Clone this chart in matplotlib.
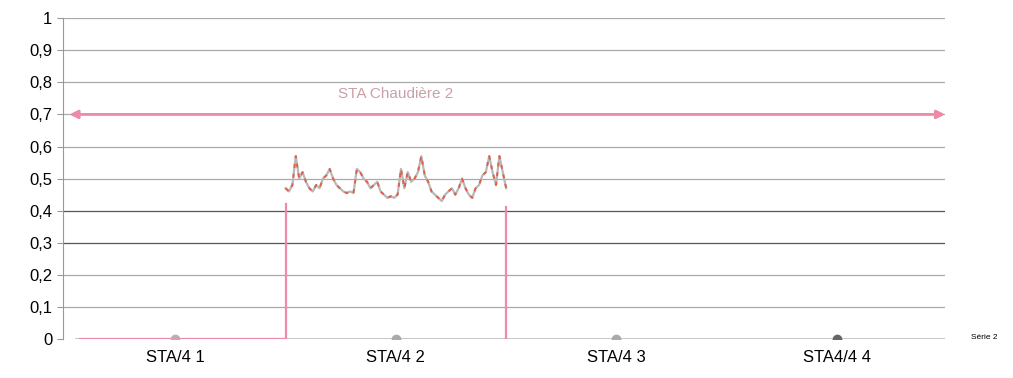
import matplotlib
matplotlib.use("Agg")
import matplotlib.pyplot as plt
import numpy as np

plt.rcParams['font.family'] = ['Liberation Sans', 'DejaVu Sans']

categories = ["STA/4 1", "STA/4 2", "STA/4 3", "STA4/4 4"]
serie2_values = [0, 0, 0, 0]
yticks = [0, 0.1, 0.2, 0.3, 0.4, 0.5, 0.6, 0.7, 0.8, 0.9, 1]
ytick_labels = ["0", "0,1", "0,2", "0,3", "0,4", "0,5", "0,6", "0,7", "0,8", "0,9", "1"]

# Signal for STA Chaudière 2 (between category 1 and 2 boundaries)
signal = [0.47, 0.46, 0.48, 0.57, 0.50, 0.52, 0.49, 0.47, 0.46, 0.48, 0.47, 0.50,
          0.51, 0.53, 0.50, 0.48, 0.47, 0.46, 0.455, 0.46, 0.455, 0.53, 0.52, 0.50,
          0.49, 0.47, 0.48, 0.49, 0.46, 0.45, 0.44, 0.445, 0.44, 0.45, 0.53, 0.47,
          0.52, 0.49, 0.50, 0.52, 0.57, 0.51, 0.49, 0.46, 0.45, 0.44, 0.43, 0.45,
          0.46, 0.47, 0.45, 0.47, 0.50, 0.47, 0.45, 0.44, 0.47, 0.48, 0.51, 0.52,
          0.57, 0.52, 0.48, 0.57, 0.52, 0.47]
sta_level = 0.7
sta_label = "STA Chaudière 2"
legend_label = "Série 2"

fig = plt.figure(figsize=(10.13, 3.78), dpi=100)
ax = fig.add_axes([0.062, 0.103, 0.871, 0.849])
x = np.arange(len(categories))
ax.set_xlim(-0.51, 3.49)
ax.set_ylim(0, 1)

for yv in yticks[1:]:
    col = '#555555' if yv in (0.3, 0.4) else '#aaaaaa'
    ax.axhline(yv, color=col, lw=0.9, zorder=1)

# Serie 2
ax.plot([-0.45, 3.49], [0, 0], color='#bbbbbb', lw=1.2, zorder=2)
mcolors = ['#c8a8b0', '#aaaaaa', '#aaaaaa', '#666666']
for xi, yi, c in zip(x, serie2_values, mcolors):
    ax.plot(xi, yi, 'o', color=c, ms=6, zorder=4)

# Pink trace
pink = '#ec8aa8'
xs = np.linspace(0.5, 1.5, len(signal))
ax.plot([-0.43, 0.5, 0.5], [0, 0, 0.42], color=pink, lw=1.6, zorder=3)
ax.plot([1.5, 1.5], [0.41, 0], color=pink, lw=1.6, zorder=3)
ax.plot(xs, signal, color='#b8b8b8', lw=1.6, zorder=3)
ax.plot(xs, signal, color='#e0604a', lw=1.4, zorder=3, linestyle=(0, (2, 3)))

# Arrow
ax.annotate('', xy=(3.49, sta_level), xytext=(-0.48, sta_level),
            arrowprops=dict(arrowstyle='<|-|>', color=pink, lw=2,
                            mutation_scale=12, shrinkA=0, shrinkB=0),
            annotation_clip=False, zorder=5)
ax.text(1.0, 0.765, sta_label, color='#c9a0a8', fontsize=11, ha='center', va='center')

ax.set_xticks(x)
ax.set_xticklabels(categories, fontsize=12)
ax.set_yticks(yticks)
ax.set_yticklabels(ytick_labels, fontsize=12)
ax.tick_params(axis='x', length=0, pad=8)
ax.tick_params(axis='y', length=4, color='#999999', direction='out')
for s in ['top', 'right', 'bottom']:
    ax.spines[s].set_visible(False)
ax.spines['left'].set_color('#999999')

fig.text(0.985, 0.108, legend_label, fontsize=6, ha='right', va='center')

fig.savefig('out.png', dpi=100)
